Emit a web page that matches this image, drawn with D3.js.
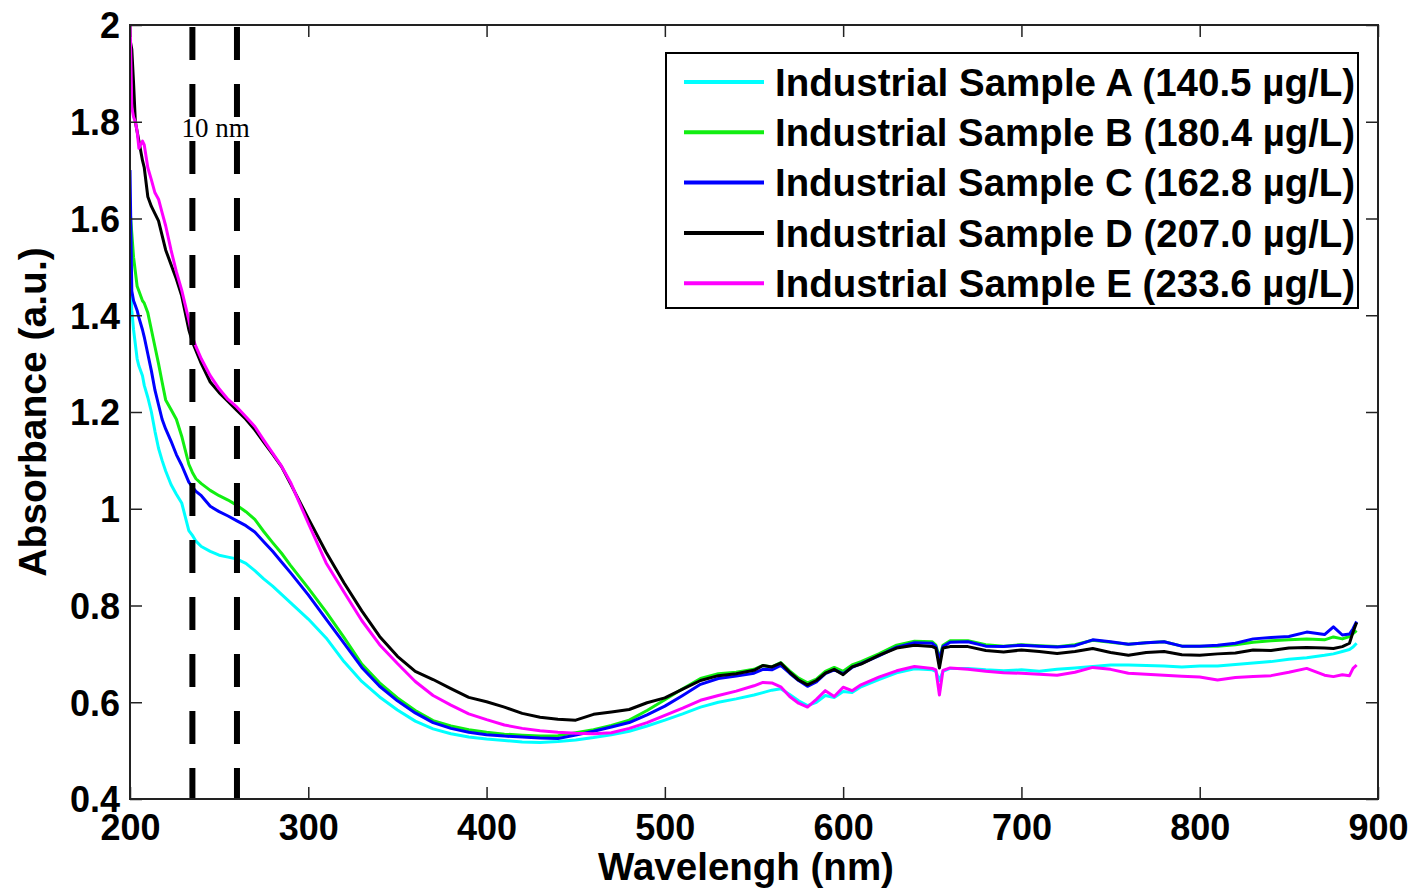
<!DOCTYPE html>
<html>
<head>
<meta charset="utf-8">
<script src="https://cdn.jsdelivr.net/npm/d3@7"></script>
<style>
    html, body { margin: 0; padding: 0; background: #fff; }
    svg { display: block; }
    text { font-family: Arial, "Liberation Sans", sans-serif; font-weight: bold; fill: #000; }
</style>
</head>
<body>
<div id="chart"></div>
<script>
// wavelength grid (nm), shared by every sample
const wavelength = [
    200, 201, 202, 203, 204, 205, 207, 208, 210, 212, 214, 216, 218, 220, 223, 226, 229,
    233, 235, 237, 240, 245, 250, 255, 260, 265, 270, 275, 280, 285, 290,
    300, 310, 320, 330, 340, 350, 360, 370, 380, 390, 400, 410, 420, 430, 440, 450,
    460, 470, 480, 490, 500, 510, 520, 530, 540, 550,
    555, 560, 565, 570, 575, 580, 585, 590, 595, 600, 605, 610,
    620, 630, 640, 650, 652, 654, 656, 660,
    670, 680, 690, 700, 710, 720, 730, 740, 750, 760, 770, 780, 790, 800, 810, 820, 830, 840, 850, 860, 870,
    875, 880, 884, 886, 888
];

const sampleA = [
    1.50, 1.41, 1.37, 1.34, 1.31, 1.295, 1.275, 1.255, 1.23, 1.20, 1.16, 1.125, 1.10, 1.078, 1.05, 1.03, 1.012,
    0.955, 0.945, 0.933, 0.922, 0.912, 0.904, 0.900, 0.896, 0.887, 0.872, 0.855, 0.840, 0.823, 0.806,
    0.772, 0.733, 0.684, 0.643, 0.611, 0.584, 0.561, 0.545, 0.535, 0.528, 0.524, 0.521, 0.518, 0.517, 0.519, 0.522,
    0.527, 0.533, 0.540, 0.551, 0.563, 0.576, 0.590, 0.600, 0.607, 0.615,
    0.620, 0.625, 0.628, 0.616, 0.603, 0.593, 0.600, 0.614, 0.610, 0.622, 0.620, 0.632,
    0.647, 0.661, 0.669, 0.667, 0.664, 0.645, 0.664, 0.670,
    0.670, 0.667, 0.665, 0.667, 0.664, 0.668, 0.671, 0.674, 0.677, 0.677, 0.676, 0.675, 0.673, 0.675, 0.675, 0.678, 0.681, 0.684, 0.689, 0.692, 0.697,
    0.700, 0.705, 0.709, 0.714, 0.722
];

const sampleB = [
    1.62, 1.57, 1.52, 1.49, 1.46, 1.45, 1.43, 1.425, 1.405, 1.37, 1.335, 1.30, 1.262, 1.225, 1.205, 1.185, 1.150,
    1.092, 1.075, 1.062, 1.052, 1.038, 1.027, 1.018, 1.007, 0.994, 0.978, 0.953, 0.930, 0.908, 0.883,
    0.836, 0.787, 0.734, 0.679, 0.640, 0.609, 0.583, 0.562, 0.551, 0.543, 0.538, 0.534, 0.532, 0.530, 0.531, 0.537,
    0.543, 0.552, 0.563, 0.583, 0.605, 0.628, 0.649, 0.659, 0.662, 0.668,
    0.676, 0.673, 0.682, 0.665, 0.650, 0.640, 0.648, 0.664, 0.672, 0.664, 0.677, 0.684,
    0.700, 0.718, 0.726, 0.725, 0.718, 0.692, 0.718, 0.727,
    0.727, 0.719, 0.716, 0.719, 0.717, 0.715, 0.719, 0.728, 0.724, 0.720, 0.723, 0.725, 0.716, 0.716, 0.716, 0.719, 0.724, 0.727, 0.729, 0.731, 0.729,
    0.735, 0.731, 0.736, 0.742, 0.748
];

const sampleC = [
    1.70, 1.45, 1.43, 1.42, 1.41, 1.395, 1.37, 1.355, 1.32, 1.285, 1.245, 1.215, 1.185, 1.165, 1.14, 1.112, 1.09,
    1.055, 1.045, 1.036, 1.027, 1.005, 0.994, 0.985, 0.975, 0.965, 0.952, 0.932, 0.912, 0.890, 0.868,
    0.822, 0.772, 0.722, 0.672, 0.633, 0.603, 0.578, 0.558, 0.546, 0.538, 0.533, 0.530, 0.528, 0.526, 0.525, 0.532,
    0.540, 0.549, 0.558, 0.574, 0.592, 0.614, 0.637, 0.649, 0.654, 0.660,
    0.668, 0.667, 0.676, 0.660, 0.645, 0.633, 0.642, 0.659, 0.667, 0.659, 0.672, 0.680,
    0.696, 0.714, 0.723, 0.722, 0.715, 0.688, 0.715, 0.724,
    0.725, 0.716, 0.715, 0.718, 0.716, 0.714, 0.717, 0.729, 0.725, 0.720, 0.723, 0.725, 0.716, 0.716, 0.718, 0.722, 0.731, 0.734, 0.736, 0.745, 0.740,
    0.756, 0.739, 0.741, 0.752, 0.767
];

const sampleD = [
    1.97, 1.95, 1.88, 1.80, 1.78, 1.76, 1.72, 1.705, 1.645, 1.625, 1.61, 1.595, 1.565, 1.535, 1.505, 1.475, 1.44,
    1.37, 1.345, 1.327, 1.30, 1.262, 1.24, 1.222, 1.203, 1.185, 1.163, 1.138, 1.113, 1.087, 1.052,
    0.980, 0.910, 0.847, 0.789, 0.736, 0.695, 0.664, 0.647, 0.628, 0.610, 0.601, 0.590, 0.577, 0.569, 0.565, 0.563,
    0.575, 0.580, 0.585, 0.599, 0.609, 0.627, 0.645, 0.655, 0.659, 0.666,
    0.676, 0.673, 0.681, 0.662, 0.646, 0.636, 0.645, 0.660, 0.668, 0.657, 0.673, 0.679,
    0.697, 0.712, 0.718, 0.715, 0.712, 0.671, 0.712, 0.715,
    0.715, 0.707, 0.704, 0.708, 0.705, 0.701, 0.705, 0.711, 0.703, 0.697, 0.703, 0.705, 0.698, 0.697, 0.700, 0.702, 0.708, 0.707, 0.712, 0.713, 0.712,
    0.711, 0.715, 0.722, 0.745, 0.765
];

const sampleE = [
    2.02, 1.83, 1.81, 1.80, 1.78, 1.745, 1.76, 1.752, 1.705, 1.68, 1.653, 1.64, 1.612, 1.585, 1.535, 1.49, 1.452,
    1.39, 1.355, 1.335, 1.31, 1.275, 1.248, 1.226, 1.21, 1.19, 1.17, 1.142, 1.115, 1.088, 1.055,
    0.970, 0.888, 0.828, 0.769, 0.719, 0.680, 0.643, 0.614, 0.594, 0.576, 0.564, 0.553, 0.546, 0.541, 0.538, 0.536,
    0.535, 0.537, 0.546, 0.558, 0.573, 0.588, 0.604, 0.614, 0.623, 0.634,
    0.641, 0.640, 0.632, 0.612, 0.598, 0.590, 0.606, 0.624, 0.612, 0.631, 0.624, 0.636,
    0.652, 0.665, 0.674, 0.670, 0.667, 0.615, 0.666, 0.671,
    0.668, 0.664, 0.661, 0.660, 0.658, 0.656, 0.662, 0.672, 0.668, 0.660, 0.658, 0.656, 0.654, 0.652, 0.646, 0.651, 0.653, 0.655, 0.662, 0.670, 0.656,
    0.653, 0.657, 0.655, 0.670, 0.677
];

const seriesValues = [sampleA, sampleB, sampleC, sampleD, sampleE];
const seriesNames = [
    'Industrial Sample A (140.5 \u00b5g/L)',
    'Industrial Sample B (180.4 \u00b5g/L)',
    'Industrial Sample C (162.8 \u00b5g/L)',
    'Industrial Sample D (207.0 \u00b5g/L)',
    'Industrial Sample E (233.6 \u00b5g/L)'
];
const seriesColors = ['#00ffff', '#11ee11', '#0000ff', '#000000', '#ff00ff'];

const xTicks = [200, 300, 400, 500, 600, 700, 800, 900];
const yTicks = [0.4, 0.6, 0.8, 1.0, 1.2, 1.4, 1.6, 1.8, 2.0];
const yTickLabels = ['0.4', '0.6', '0.8', '1', '1.2', '1.4', '1.6', '1.8', '2'];
const markerLines = [235, 260];
const markerLabel = '10 nm';

const width = 1416, height = 889;
const plot = { left: 130, right: 1378, top: 25, bottom: 799 };

const svg = d3.select('#chart')
    .append('svg')
    .attr('width', width)
    .attr('height', height);

const x = d3.scaleLinear().domain([200, 900]).range([plot.left, plot.right]);
const y = d3.scaleLinear().domain([0.4, 2]).range([plot.bottom, plot.top]);

svg.append('defs').append('clipPath')
    .attr('id', 'plot-clip')
    .append('rect')
    .attr('x', plot.left)
    .attr('y', plot.top)
    .attr('width', plot.right - plot.left)
    .attr('height', plot.bottom - plot.top);

// spectra
const line = d3.line()
    .x((d, i) => x(wavelength[i]))
    .y(d => y(d));

const lines = svg.append('g').attr('clip-path', 'url(#plot-clip)');
seriesValues.forEach((vals, k) => {
    lines.append('path')
        .datum(vals)
        .attr('d', line)
        .attr('fill', 'none')
        .attr('stroke', seriesColors[k])
        .attr('stroke-width', 3)
        .attr('stroke-linejoin', 'round');
});

// the two dashed marker lines
svg.append('g')
    .selectAll('line')
    .data(markerLines)
    .enter()
    .append('line')
    .attr('x1', d => x(d))
    .attr('x2', d => x(d))
    .attr('y1', y(2) + 2)
    .attr('y2', y(0.4))
    .attr('stroke', '#000')
    .attr('stroke-width', 6)
    .attr('stroke-dasharray', '33,24');

svg.append('text')
    .attr('x', (x(markerLines[0]) + x(markerLines[1])) / 2 + 1)
    .attr('y', 137)
    .attr('text-anchor', 'middle')
    .style('font-family', '"Times New Roman", "Liberation Serif", serif')
    .style('font-weight', 'normal')
    .style('font-size', '27px')
    .text(markerLabel);

// axes, ticks pointing inward on all four sides
function styleAxis(g) {
    g.select('.domain').remove();
    g.selectAll('.tick line').attr('stroke', '#222').attr('stroke-width', 1.5);
}

svg.append('g')
    .attr('transform', `translate(0,${plot.bottom})`)
    .call(d3.axisBottom(x).tickValues(xTicks).tickSize(-12).tickFormat(d3.format('d')))
    .call(styleAxis)
    .call(g => g.selectAll('.tick text')
        .attr('y', 41).attr('dy', null)
        .style('font-size', '36px'));

svg.append('g')
    .attr('transform', `translate(0,${plot.top})`)
    .call(d3.axisTop(x).tickValues(xTicks).tickSize(-12).tickFormat(''))
    .call(styleAxis);

svg.append('g')
    .attr('transform', `translate(${plot.left},0)`)
    .call(d3.axisLeft(y).tickValues(yTicks).tickSize(-12).tickPadding(10)
        .tickFormat((d, i) => yTickLabels[i]))
    .call(styleAxis)
    .call(g => g.selectAll('.tick text')
        .attr('dy', '0.36em')
        .style('font-size', '36px'));

svg.append('g')
    .attr('transform', `translate(${plot.right},0)`)
    .call(d3.axisRight(y).tickValues(yTicks).tickSize(-12).tickFormat(''))
    .call(styleAxis);

// box
svg.append('rect')
    .attr('x', plot.left)
    .attr('y', plot.top)
    .attr('width', plot.right - plot.left)
    .attr('height', plot.bottom - plot.top)
    .attr('fill', 'none')
    .attr('stroke', '#222')
    .attr('stroke-width', 2);

// axis titles
svg.append('text')
    .attr('x', 746)
    .attr('y', 880)
    .attr('text-anchor', 'middle')
    .style('font-size', '38.5px')
    .text('Wavelengh (nm)');

svg.append('text')
    .attr('transform', 'translate(46,412) rotate(-90)')
    .attr('text-anchor', 'middle')
    .style('font-size', '39px')
    .text('Absorbance (a.u.)');

// legend
const legend = svg.append('g');
legend.append('rect')
    .attr('x', 666)
    .attr('y', 53)
    .attr('width', 692)
    .attr('height', 255)
    .attr('fill', '#fff')
    .attr('stroke', '#000')
    .attr('stroke-width', 2);

const rows = legend.selectAll('g.row')
    .data(seriesNames)
    .enter()
    .append('g')
    .attr('class', 'row')
    .attr('transform', (d, i) => `translate(0,${82 + i * 50.3})`);

rows.append('line')
    .attr('x1', 684)
    .attr('x2', 764)
    .attr('stroke', (d, i) => seriesColors[i])
    .attr('stroke-width', 4);

rows.append('text')
    .attr('x', 775)
    .attr('dy', '0.36em')
    .attr('textLength', 580)
    .attr('lengthAdjust', 'spacingAndGlyphs')
    .style('font-size', '38px')
    .text(d => d);
</script>
</body>
</html>
